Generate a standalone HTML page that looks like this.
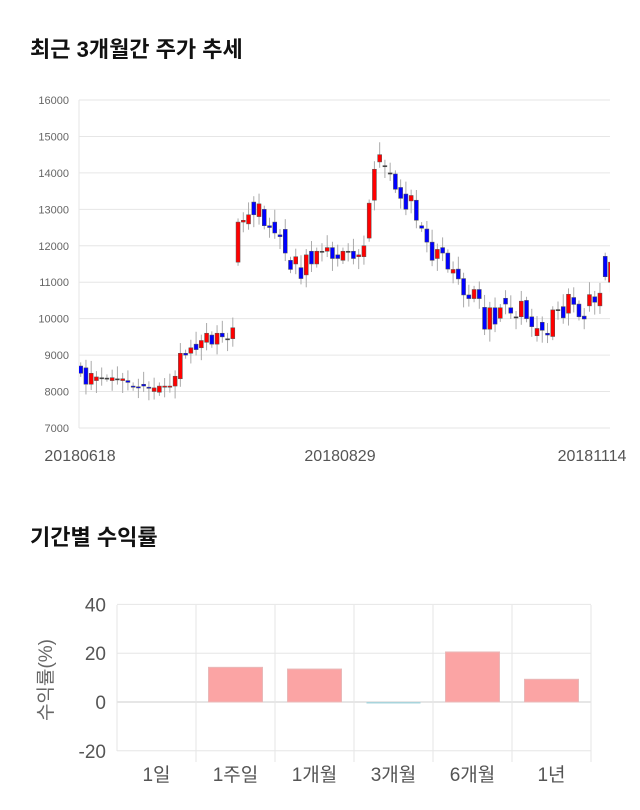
<!DOCTYPE html>
<html><head><meta charset="utf-8"><style>
body{margin:0;background:#fff;width:640px;height:810px;overflow:hidden;font-family:"Liberation Sans","Noto Sans CJK KR",sans-serif}
h2{position:absolute;left:30px;margin:0;font-size:22px;font-weight:bold;color:#111}
</style></head><body>
<h2 style="top:32px">최근 3개월간 주가 추세</h2>
<h2 style="top:520px">기간별 수익률</h2>
<svg id="c" width="640" height="810" style="position:absolute;left:0;top:0" font-family="Liberation Sans, Noto Sans CJK KR, sans-serif"></svg>
<script>
var s='<defs><clipPath id="cp"><rect x="79" y="90" width="531" height="345"/></clipPath></defs>';
function Y(v){return 100+(16000-v)*0.03644;}
for(var v=7000;v<=16000;v+=1000){var y=Y(v);s+='<line x1="79" x2="610" y1="'+y+'" y2="'+y+'" stroke="#e6e6e6"/>';s+='<text x="69" y="'+(y+4)+'" font-size="11" fill="#666" text-anchor="end">'+v+'</text>';}
s+='<line x1="79" x2="79" y1="100" y2="428" stroke="#e6e6e6"/>';
var d=[[8700,8500],[8650,8200],[8200,8500],[8300,8400],[8380,8380],[8370,8370],[8300,8380],[8350,8350],[8300,8350],[8300,8250],[8150,8120],[8130,8100],[8200,8150],[8120,8100],[8000,8100],[7980,8150],[8120,8150],[8130,8150],[8150,8420],[8350,9050],[9050,9000],[9050,9200],[9300,9150],[9200,9400],[9350,9600],[9550,9300],[9300,9600],[9600,9500],[9450,9450],[9450,9750],
[11550,12650],[12650,12700],[12600,12850],[13200,12850],[12800,13150],[13000,12550],[12550,12500],[12650,12350],[12300,12250],[12450,11800],[11600,11350],[11500,11700],[11400,11100],[11200,11750],[11850,11500],[11500,11850],[11850,11850],[11850,11950],
[11950,11650],[11750,11650],[11600,11850],[11850,11850],[11850,11650],[11700,11750],[11700,12000],[12210,13170],[13250,14100],[14300,14500],[14200,14200],[14000,14000],[13970,13550],[13600,13300],[13420,13000],[13230,13380],[13250,12700],[12550,12480],[12460,12100],[12100,11600],[11650,11900],[11950,11800],[11800,11360],[11250,11350],[11360,11090],[11100,10650],[10650,10550],[10550,10800],[10800,10550],[10310,9710],[9710,10300],[10300,9850],[10010,10300],[10560,10400],[10300,10150],[10050,10050],[10050,10480],[10500,10000],[10050,9780],[9530,9730],[9900,9680],[9600,9550],[9510,10240],[10250,10250],[10330,10020],[10150,10670],[10580,10390],[10400,10050],[10070,9990],[10350,10660],[10600,10450],[10350,10700],[11710,11150],[11000,11550]];
s+='<g clip-path="url(#cp)">';
for(var i=0;i<d.length;i++){var o=d[i][0],c=d[i][1],x=80.7+i*5.245;var hi=Math.max(o,c)+100+((i*37)%5)*60,lo=Math.min(o,c)-100-((i*53)%5)*60;
s+='<line x1="'+x+'" x2="'+x+'" y1="'+Y(hi)+'" y2="'+Y(lo)+'" stroke="#aaa"/>';
var t=Y(Math.max(o,c)),b=Y(Math.min(o,c));var h=Math.max(b-t,1.2);var col=c>o?'#f00':(c<o?'#00f':'#333');
s+='<rect x="'+(x-2)+'" y="'+t+'" width="4" height="'+h+'" fill="'+col+'" stroke="#555" stroke-width="0.5"/>';}
s+='</g>';
s+='<text x="80" y="461" font-size="16" fill="#555" text-anchor="middle">20180618</text>';
s+='<text x="340" y="461" font-size="16" fill="#555" text-anchor="middle">20180829</text>';
s+='<text x="592" y="461" font-size="16" fill="#555" text-anchor="middle">20181114</text>';
function B(v){return 702-v*2.44;}
[40,20,0,-20].forEach(function(v){var y=B(v);s+='<line x1="117" x2="591" y1="'+y+'" y2="'+y+'" stroke="'+(v==0?'#ccc':'#e6e6e6')+'"/>';s+='<text x="106" y="'+(y+7)+'" font-size="19" fill="#555" text-anchor="end">'+v+'</text>';});
for(var k=0;k<7;k++){var x=117+k*79;s+='<line x1="'+x+'" x2="'+x+'" y1="605" y2="'+(k==0?751:762)+'" stroke="#e6e6e6"/>';}
var lab=['1일','1주일','1개월','3개월','6개월','1년'],val=[0,14.2,13.5,-0.5,20.5,9.3];
for(var k=0;k<6;k++){var cx=117+79*k+39.5;var v=val[k];
if(v>0)s+='<rect x="'+(cx-27)+'" y="'+B(v)+'" width="54" height="'+(702-B(v))+'" fill="#fba4a4" stroke="#e8b8b8"/>';
else if(v<0)s+='<rect x="'+(cx-27)+'" y="702" width="54" height="1.5" fill="#a8d4dc"/>';
s+='<text x="'+cx+'" y="781" font-size="19" fill="#555" text-anchor="middle">'+lab[k]+'</text>';}
s+='<text transform="translate(52,680) rotate(-90)" font-size="19" fill="#666" text-anchor="middle">수익률(%)</text>';
document.getElementById('c').innerHTML=s;
</script>
</body></html>
